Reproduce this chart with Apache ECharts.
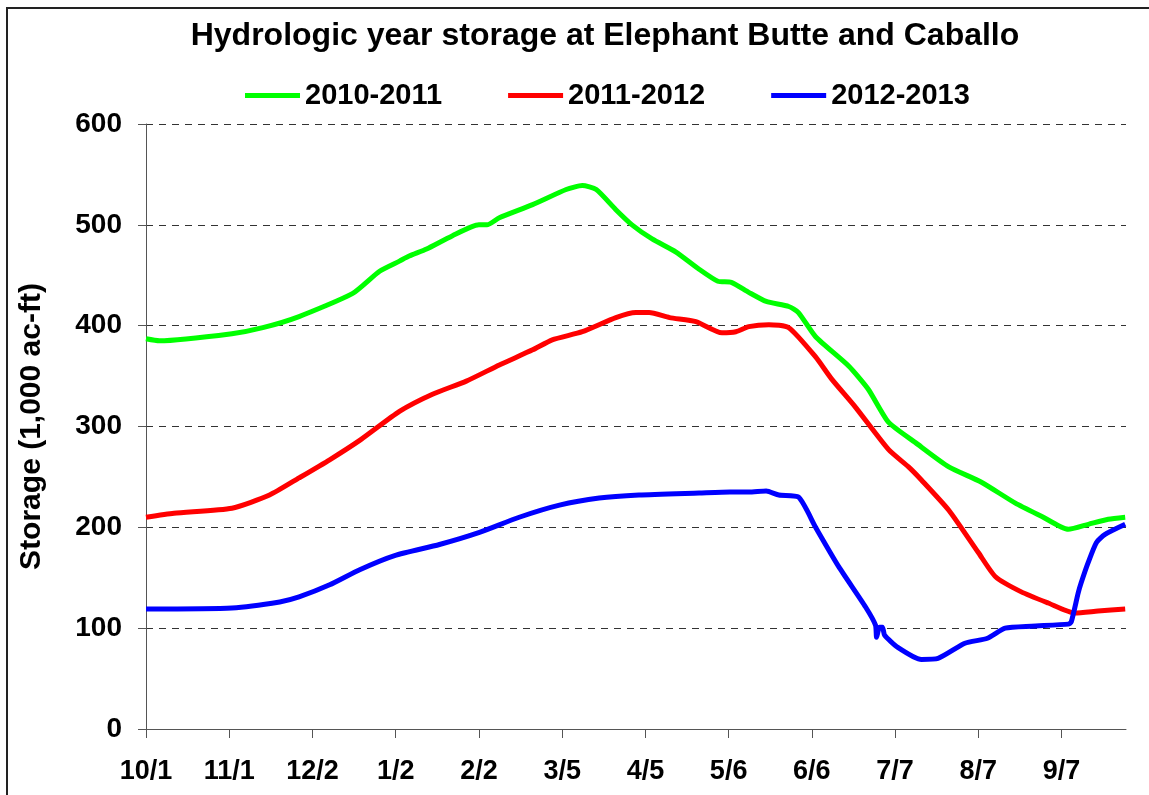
<!DOCTYPE html>
<html>
<head>
<meta charset="utf-8">
<title>Hydrologic year storage</title>
<script src="https://cdn.jsdelivr.net/npm/echarts@6/dist/echarts.min.js"></script>
<style>
  html, body { margin: 0; padding: 0; background: #fff; }
  #chart { width: 1149px; height: 795px; }
</style>
</head>
<body>
<div id="chart"></div>
<script>
// days since 10/1 (31 days per tick)
const tickLabels = ['10/1', '11/1', '12/2', '1/2', '2/2', '3/5', '4/5', '5/6', '6/6', '7/7', '8/7', '9/7']
const seriesNames = ['2010-2011', '2011-2012', '2012-2013']

const days2010 = [0, 5, 32, 43.5, 57, 77, 87, 94.4, 98, 104.5, 114, 124, 127, 131.6, 144, 156.5, 162.5, 167.7, 175, 181, 188.5, 197.4, 206, 213, 218, 224.5, 231, 239.4, 243, 249.4, 261.7, 269, 276.6, 286.6, 299, 311, 323.8, 333.5, 343.5, 351, 358.4, 364.7]
const storage2010 = [387, 385, 392, 398, 409, 432, 454, 464, 469, 476, 489, 500, 500, 507, 520, 535, 539, 535, 515, 500, 486, 473, 456, 444, 443, 433, 424, 419, 413, 389, 360, 337, 304, 284, 260, 245, 224, 211, 198, 203, 208, 210]

const days2011 = [0, 10.4, 32, 46, 57, 68.4, 80, 94.4, 106.7, 119.3, 131.6, 144, 151.3, 162.5, 175, 182.5, 187.4, 195, 204.8, 214.5, 219.7, 224.5, 232, 239.4, 249.4, 255.4, 264, 276.6, 284, 288.8, 299, 310, 316.4, 326, 336, 346, 354.6, 364.7]
const storage2011 = [210, 214, 219, 232, 249, 267, 287, 315, 332, 345, 361, 376, 386, 394, 408, 413, 413, 408, 404, 393, 394, 399, 401, 398, 369, 347, 320, 277, 260, 247, 217, 175, 151, 136, 125, 115, 117, 119]

const days2012 = [0, 32, 49.8, 57, 68.4, 79.6, 92.6, 109.3, 124.2, 139, 154, 168.8, 183.6, 206, 217.5, 224.5, 231, 235.7, 243, 249.4, 258, 268, 271.7, 272.1, 273.2, 274.3, 275.1, 280, 288.8, 295, 305, 313.4, 320, 329.7, 343.5, 344.6, 347.2, 348.3, 350.9, 354, 357.2, 364.7]
const storage2012 = [119, 120, 126, 131, 143, 158, 172, 183, 195, 210, 222, 229, 232, 234, 235, 235, 236, 232, 230, 200, 161, 121, 103, 91, 101, 101, 93, 81, 69, 70, 85, 90, 100, 102, 104, 106, 135, 145, 165, 185, 193, 203]

const pairs = (xs, ys) => xs.map((x, i) => [x, ys[i]])
const colors = ['#00ff00', '#ff0000', '#0000ff']
const font = '"Liberation Sans", Arial, sans-serif'

const chart = echarts.init(document.getElementById('chart'))

const lineSeries = [
  pairs(days2010, storage2010),
  pairs(days2011, storage2011),
  pairs(days2012, storage2012)
].map((data, i) => ({
  name: seriesNames[i],
  type: 'line',
  data: data,
  showSymbol: false,
  symbol: 'none',
  smooth: 0.2,
  lineStyle: { color: colors[i], width: 5 },
  itemStyle: { color: colors[i] }
}))

chart.setOption({
  animation: false,
  backgroundColor: '#fff',
  textStyle: { fontFamily: font },
  title: {
    text: 'Hydrologic year storage at Elephant Butte and Caballo',
    left: 605,
    textAlign: 'center',
    top: 20,
    padding: 0,
    textStyle: { fontSize: 32, fontWeight: 'bold', color: '#000', fontFamily: font }
  },
  legend: {
    data: seriesNames,
    left: 245,
    top: 81,
    padding: 0,
    icon: 'rect',
    itemWidth: 55,
    itemHeight: 5,
    itemGap: 66,
    textStyle: { fontSize: 29, fontWeight: 'bold', color: '#000', fontFamily: font }
  },
  graphic: [{
    type: 'rect',
    shape: { x: 7, y: 8, width: 1170, height: 820 },
    style: { fill: 'none', stroke: '#222', lineWidth: 2 },
    silent: true
  }],
  grid: {
    left: 146,
    right: 23,
    top: 124,
    bottom: 66
  },
  xAxis: {
    type: 'value',
    min: 0,
    max: 365,
    interval: 31,
    splitLine: { show: false },
    axisLine: { lineStyle: { color: '#555', width: 1 } },
    axisTick: {
      customValues: tickLabels.map((_, i) => i * 31),
      length: 9,
      lineStyle: { color: '#555' }
    },
    axisLabel: {
      customValues: tickLabels.map((_, i) => i * 31),
      formatter: v => tickLabels[Math.round(v / 31)] || '',
      margin: 29,
      fontSize: 27,
      fontWeight: 'bold',
      color: '#000',
      fontFamily: font
    }
  },
  yAxis: {
    type: 'value',
    min: 0,
    max: 600,
    interval: 100,
    name: 'Storage (1,000 ac-ft)',
    nameLocation: 'middle',
    nameRotate: 90,
    nameGap: 99,
    nameTextStyle: { fontSize: 30, fontWeight: 'bold', color: '#000', fontFamily: font },
    axisLine: { show: true, lineStyle: { color: '#555', width: 1 } },
    axisTick: { show: true, length: 8, lineStyle: { color: '#555' } },
    axisLabel: {
      margin: 24,
      fontSize: 28,
      fontWeight: 'bold',
      color: '#000',
      fontFamily: font
    },
    splitLine: { lineStyle: { color: '#333', type: [7, 6], width: 1 } }
  },
  series: lineSeries
})
</script>
</body>
</html>
